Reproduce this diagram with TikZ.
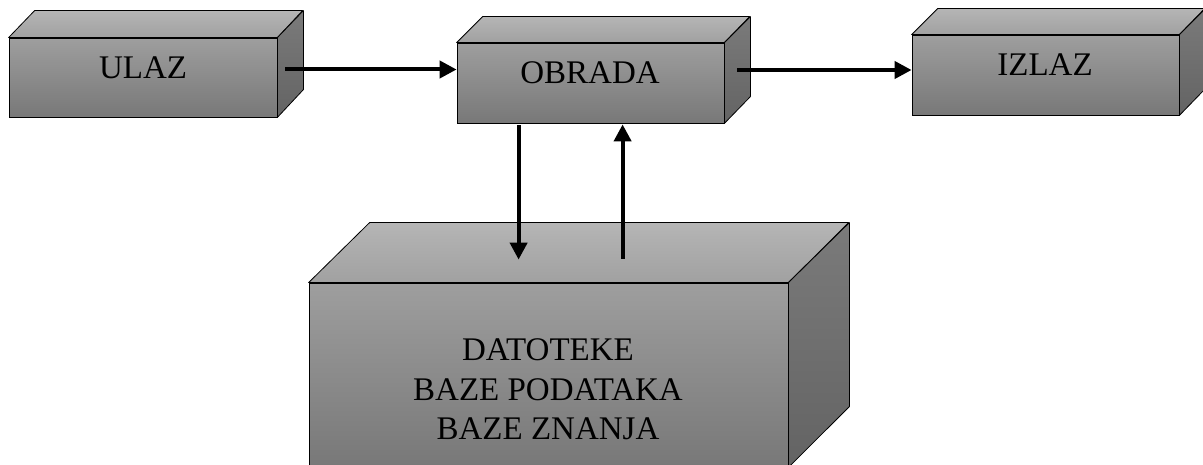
\documentclass[tikz,border=0pt]{standalone}
\usepackage{fontspec}
\setmainfont{Liberation Serif}
\usepackage{tikz}
\usetikzlibrary{arrows.meta,positioning}

\definecolor{predGore}{gray}{0.62}
\definecolor{predDolje}{gray}{0.47}
\definecolor{vrhNazad}{gray}{0.71}
\definecolor{vrhNaprijed}{gray}{0.63}
\definecolor{bokGore}{gray}{0.48}
\definecolor{bokDolje}{gray}{0.39}

\tikzset{
	prednja/.style={draw=black, line width=0.8pt, top color=predGore, bottom color=predDolje, inner sep=0pt},
	gornja/.style={draw=black, line width=0.8pt, top color=vrhNazad, bottom color=vrhNaprijed, line join=round},
	bocna/.style={draw=black, line width=0.8pt, top color=bokGore, bottom color=bokDolje, line join=round},
	natpis/.style={inner sep=0pt, font=\fontsize{33}{39.5}\selectfont, align=center},
	strelica/.style={line width=4pt, -{Triangle[length=17pt,width=17pt]}}
}

\begin{document}
\begin{tikzpicture}[x=1pt,y=-1pt]
	\useasboundingbox (0,0) rectangle (1203,465);
	\clip (0,0) rectangle (1203,465);

	% kutije
	\node[prednja, minimum width=268pt, minimum height=79pt] (ulaz) at (143,77.5) {};
	\draw[gornja] (ulaz.north west) -- ++(26,-27) -- ++(268,0) -- (ulaz.north east) -- cycle;
	\draw[bocna] (ulaz.north east) -- ++(26,-27) -- ++(0,79) -- (ulaz.south east) -- cycle;

	\node[prednja, minimum width=267pt, minimum height=80pt] (obrada) at (590.5,83) {};
	\draw[gornja] (obrada.north west) -- ++(26,-26) -- ++(267,0) -- (obrada.north east) -- cycle;
	\draw[bocna] (obrada.north east) -- ++(26,-26) -- ++(0,80) -- (obrada.south east) -- cycle;

	\node[prednja, minimum width=267pt, minimum height=80pt] (izlaz) at (1045.5,75) {};
	\draw[gornja] (izlaz.north west) -- ++(26,-26) -- ++(267,0) -- (izlaz.north east) -- cycle;
	\draw[bocna] (izlaz.north east) -- ++(26,-26) -- ++(0,80) -- (izlaz.south east) -- cycle;

	\node[prednja, minimum width=479pt, minimum height=184pt] (baza) at (548.5,375) {};
	\draw[gornja] (baza.north west) -- ++(61,-60) -- ++(479,0) -- (baza.north east) -- cycle;
	\draw[bocna] (baza.north east) -- ++(61,-60) -- ++(0,184) -- (baza.south east) -- cycle;

	% tekst
	\node[natpis] (ulaz-t) at (143,68) {ULAZ};
	\node[natpis] (obrada-t) at (590,73) {OBRADA};
	\node[natpis] (izlaz-t) at (1045,65) {IZLAZ};
	\node[natpis] (baza-t) at (548,389.5) {DATOTEKE\\BAZE PODATAKA\\BAZE ZNANJA};

	% strelice
	\draw[strelica] ([shift={(8pt,8pt)}]ulaz.east) coordinate (s1) -- (s1 -| obrada.west);
	\draw[strelica] ([shift={(13pt,13pt)}]obrada.east) coordinate (s2) -- (s2 -| izlaz.west);
	\draw[strelica] ([shift={(62pt,-2pt)}]obrada.south west) coordinate (s3) -- ([yshift=23pt]s3 |- baza.north);
	\coordinate (s4) at ([shift={(166pt,-1pt)}]obrada.south west);
	\draw[strelica] ([yshift=24pt]s4 |- baza.north) -- (s4);

\end{tikzpicture}
\end{document}
